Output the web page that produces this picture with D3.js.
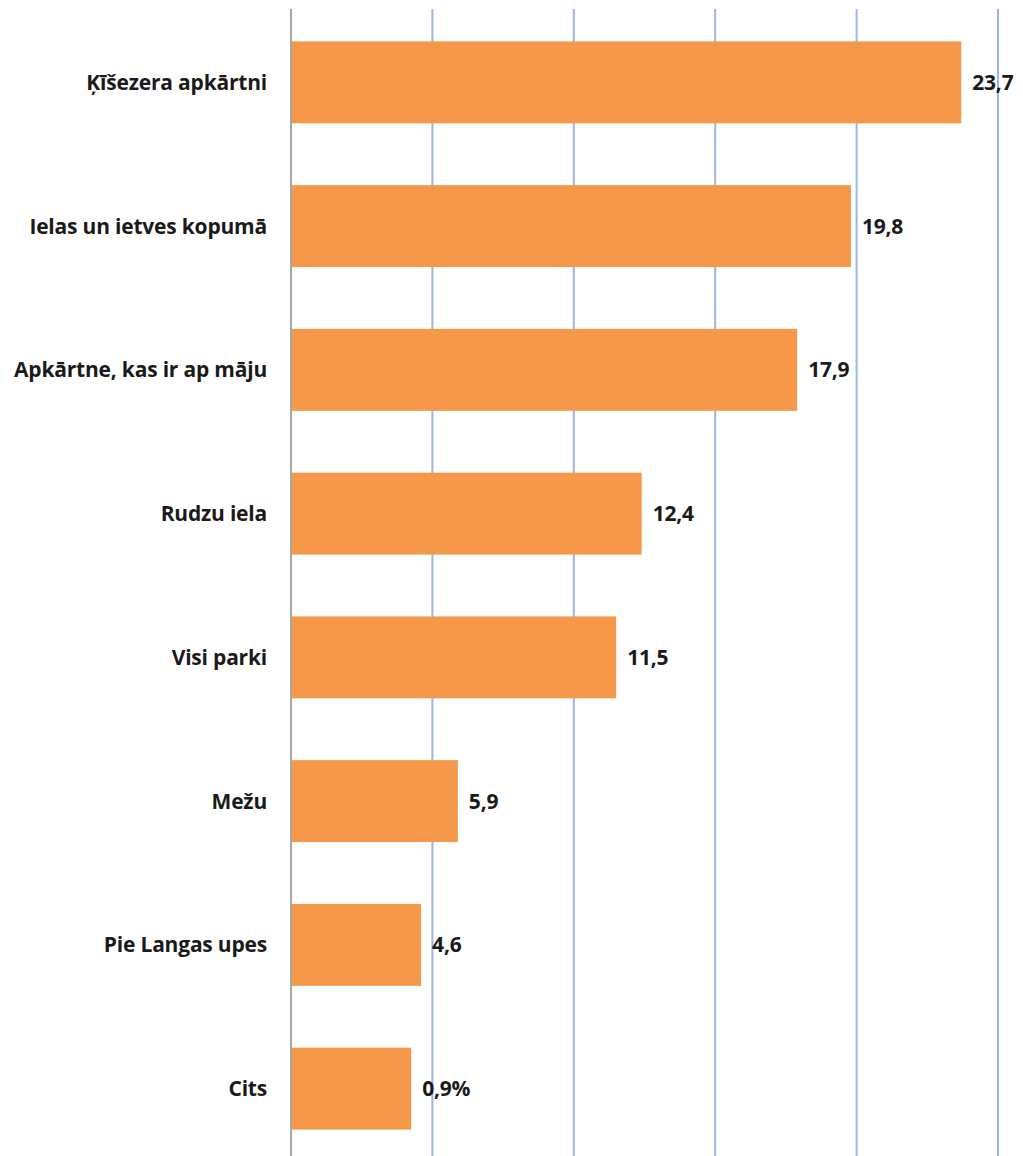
<!DOCTYPE html>
<html><head><meta charset="utf-8">
<script src="https://cdn.jsdelivr.net/npm/d3@7"></script>
<style>body{margin:0;background:#fff}svg{display:block}</style>
</head><body>
<script>
const categories = ["Ķīšezera apkārtni","Ielas un ietves kopumā","Apkārtne, kas ir ap māju","Rudzu iela","Visi parki","Mežu","Pie Langas upes","Cits"];
const values = [23.7,19.8,17.9,12.4,11.5,5.9,4.6,4.25];
const valueLabels = ["23,7","19,8","17,9","12,4","11,5","5,9","4,6","0,9%"];
const xTicks = [5,10,15,20,25];

const W=1023,H=1156;
const svg=d3.select("body").append("svg").attr("width",W).attr("height",H);
const x=d3.scaleLinear().domain([0,25]).range([291,998]);
const y=d3.scaleBand().domain(categories).range([10.5,1160.5]).paddingInner(0.43).paddingOuter(0.215);

svg.append("g").selectAll("line").data(xTicks).join("line")
  .attr("x1",d=>x(d)).attr("x2",d=>x(d)).attr("y1",9).attr("y2",H)
  .attr("stroke","#9bb5e4").attr("stroke-width",2);
svg.append("line").attr("x1",x(0)).attr("x2",x(0)).attr("y1",9).attr("y2",H)
  .attr("stroke","#a6a6a6").attr("stroke-width",2);

svg.append("g").selectAll("rect").data(values).join("rect")
  .attr("x",x(0)+1).attr("y",(d,i)=>y(categories[i]))
  .attr("width",d=>x(d)-x(0)-1).attr("height",y.bandwidth())
  .attr("fill","#f59849");

const font="'Open Sans', Lato, sans-serif";
svg.append("g").selectAll("text").data(categories).join("text")
  .attr("x",267).attr("y",d=>y(d)+y.bandwidth()/2).attr("dy","0.36em")
  .attr("text-anchor","end").attr("font-family",font).attr("font-weight",700)
  .attr("font-size",21).attr("letter-spacing","-0.2").attr("fill","#1a1a1a").text(d=>d);

svg.append("g").selectAll("text").data(values).join("text")
  .attr("x",d=>x(d)+11).attr("y",(d,i)=>y(categories[i])+y.bandwidth()/2).attr("dy","0.36em")
  .attr("font-family",font).attr("font-weight",700)
  .attr("font-size",21).attr("letter-spacing","-0.2").attr("fill","#1a1a1a").text((d,i)=>valueLabels[i]);
</script>
</body></html>
